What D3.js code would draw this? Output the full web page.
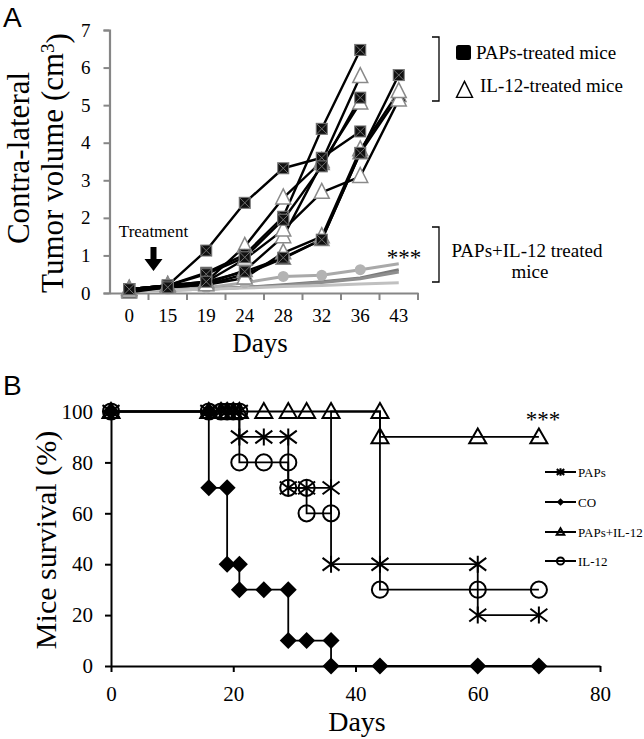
<!DOCTYPE html>
<html><head><meta charset="utf-8">
<script src="https://cdn.jsdelivr.net/npm/d3@7"></script>
<style>
body{margin:0;background:#fff;}
svg{display:block;}
text{font-family:"Liberation Serif","Times New Roman",serif;fill:#000;}
</style>
</head><body>
<svg id="c" width="644" height="739"></svg>
<script>
// ---------- Panel A data ----------
const days = ["0","15","19","24","28","32","36","43"];
const yTicksA = [0,1,2,3,4,5,6,7];
const papsMice = [
  [0.10,0.20,1.13,2.40,3.32,3.60,4.30,null],
  [0.10,0.20,0.54,1.02,2.03,4.37,6.47,null],
  [0.10,0.20,0.50,0.95,1.95,3.37,5.20,null],
  [0.10,0.15,0.30,0.57,0.94,1.42,3.73,5.80]
];
const il12Mice = [
  [0.10,0.20,0.30,1.24,2.53,3.50,5.76,null],
  [0.08,0.15,0.25,0.60,1.50,3.45,5.06,null],
  [0.10,0.20,0.30,0.90,1.68,2.68,3.10,5.14],
  [0.05,0.15,0.22,0.40,1.07,1.50,3.81,5.36]
];
const filledTriMice = [
  [0.02,0.15,0.22,0.50,0.92,1.42,3.73,5.25]
];
const comboMice = [
  [0.05,0.10,0.14,0.27,0.44,0.47,0.62,0.78],
  [0.05,0.08,0.10,0.15,0.22,0.30,0.40,0.62],
  [0.05,0.08,0.10,0.15,0.20,0.28,0.38,0.56],
  [0.05,0.08,0.10,0.13,0.17,0.20,0.24,0.27]
];
const comboColors = ["#a9a9a9","#7a7a7a","#8e8e8e","#c0c0c0"];
const legendA = ["PAPs-treated mice","IL-12-treated mice"];

// ---------- Panel B data (day, % survival) ----------
const xTicksB = [0,20,40,60,80];
const yTicksB = [0,20,40,60,80,100];
const survPAPs = [[0,100],[16,100],[18,100],[19,100],[20,100],[21,100],[21,90],[25,90],[29,90],[29,70],[32,70],[36,70],[36,40],[44,40],[60,40],[60,20],[70,20]];
const survCO = [[0,100],[16,100],[16,70],[19,70],[19,40],[21,40],[21,30],[25,30],[29,30],[29,10],[32,10],[36,10],[36,0],[44,0],[60,0],[70,0]];
const survCombo = [[0,100],[16,100],[18,100],[19,100],[20,100],[21,100],[25,100],[29,100],[32,100],[36,100],[44,100],[44,90],[60,90],[70,90]];
const survIL12 = [[0,100],[16,100],[18,100],[19,100],[20,100],[21,100],[21,80],[25,80],[29,80],[29,70],[32,70],[32,60],[36,60],[36,100,0],[44,100,0],[44,30],[60,30],[70,30]];
const legendB = ["PAPs","CO","PAPs+IL-12","IL-12"];

const svg = d3.select("#c");

// ================= PANEL A =================
const xA = d3.scaleBand().domain(days).range([110,418]);
const yA = d3.scaleLinear().domain([0,7]).range([293,30]);
const cx = d => xA(d) + xA.bandwidth()/2;
const gA = svg.append("g");
const axisGray = "#868686";

const yAxA = gA.append("g").attr("transform","translate(109.5,0)")
  .call(d3.axisLeft(yA).tickValues(yTicksA).tickSize(6).tickPadding(13).tickFormat(d3.format("d")));
yAxA.select(".domain").attr("stroke",axisGray).attr("stroke-width",2.2);
yAxA.selectAll(".tick line").attr("stroke",axisGray).attr("stroke-width",2);
yAxA.selectAll(".tick text").style("font-family","Liberation Serif").style("font-size","19px").attr("fill","#000");

const xAxA = gA.append("g").attr("transform","translate(0,293)")
  .call(d3.axisBottom(xA).tickSize(0).tickPadding(0));
xAxA.select(".domain").attr("stroke",axisGray).attr("stroke-width",2.2);
xAxA.selectAll(".tick text").attr("y",29).attr("dy",0)
  .style("font-family","Liberation Serif").style("font-size","19px").attr("fill","#000");
const bounds = days.map(d=>xA(d)).concat([xA.range()[1]]);
gA.selectAll("line.xb").data(bounds.slice(1)).enter().append("line")
  .attr("x1",d=>d).attr("x2",d=>d).attr("y1",293).attr("y2",300)
  .attr("stroke",axisGray).attr("stroke-width",2);

gA.append("text").attr("x",260).attr("y",352).attr("text-anchor","middle").style("font-size","27px").text("Days");
gA.append("text").attr("transform","translate(29,158) rotate(-90)").attr("text-anchor","middle").style("font-size","31px").text("Contra-lateral");
const t2 = gA.append("text").attr("transform","translate(63,163) rotate(-90)").attr("text-anchor","middle").style("font-size","31px");
t2.append("tspan").text("Tumor volume (cm");
t2.append("tspan").attr("dy","-0.45em").style("font-size","19px").text("3");
t2.append("tspan").attr("dy","0.45em").text(")");
svg.append("text").attr("x",3).attr("y",27).style("font-family","Liberation Sans").style("font-size","28px").text("A");

const lineA = d3.line().defined(d=>d!=null).x((d,i)=>cx(days[i])).y(d=>yA(d));

comboMice.forEach((s,k)=>{
  gA.append("path").attr("d",lineA(s)).attr("fill","none")
    .attr("stroke",comboColors[k]).attr("stroke-width",3);
});
gA.selectAll("circle.gc").data(comboMice[0].slice(0,7)).enter().append("circle")
  .attr("cx",(d,i)=>cx(days[i])).attr("cy",d=>yA(d)).attr("r",5.5).attr("fill","#b3b3b3");

[...papsMice,...il12Mice,...filledTriMice].forEach(s=>{
  gA.append("path").attr("d",lineA(s)).attr("fill","none")
    .attr("stroke","#000").attr("stroke-width",2.4).attr("stroke-linejoin","round");
});

function triPath(x,y,w,h){return `M${x},${y-h*0.6}L${x+w/2},${y+h*0.4}L${x-w/2},${y+h*0.4}Z`;}

filledTriMice.forEach(s=>s.forEach((v,i)=>{ if(v==null) return;
  gA.append("path").attr("d",triPath(cx(days[i]),yA(v),15,15)).attr("fill","#000").attr("stroke","#8a8a8a").attr("stroke-width",1.2);
}));
il12Mice.forEach(s=>s.forEach((v,i)=>{ if(v==null) return;
  gA.append("path").attr("d",triPath(cx(days[i]),yA(v),15,15)).attr("fill","#fff").attr("stroke","#8a8a8a").attr("stroke-width",1.5);
}));
papsMice.forEach(s=>s.forEach((v,i)=>{ if(v==null) return;
  const x=cx(days[i]), y=yA(v), h=5.5;
  gA.append("rect").attr("x",x-h).attr("y",y-h).attr("width",2*h).attr("height",2*h)
    .attr("fill","#111").attr("stroke","#7a7a7a").attr("stroke-width",1);
  gA.append("path").attr("d",`M${x-h},${y-h}L${x+h},${y+h}M${x-h},${y+h}L${x+h},${y-h}`)
    .attr("stroke","#707070").attr("stroke-width",1);
}));

const ax = xA("15")+5;
gA.append("text").attr("x",ax).attr("y",237).attr("text-anchor","middle").style("font-size","17px").text("Treatment");
gA.append("path").attr("d",`M${ax-3},247V259H${ax-9}L${ax},271L${ax+9},259H${ax+3}V247Z`).attr("fill","#000");
gA.append("text").attr("x",404).attr("y",265).attr("text-anchor","middle").style("font-size","23px").text("***");

const br = (y1,y2)=>gA.append("path").attr("d",`M432,${y1}H439V${y2}H432`).attr("fill","none").attr("stroke","#000").attr("stroke-width",1.3);
br(37,101); br(227,282);
gA.append("rect").attr("x",456).attr("y",45).attr("width",15).attr("height",15).attr("rx",2.5).attr("fill","#000");
gA.append("text").attr("x",476).attr("y",59).style("font-size","19px").text(legendA[0]);
gA.append("path").attr("d",triPath(464.5,91,16,16)).attr("fill","none").attr("stroke","#000").attr("stroke-width",1.4);
gA.append("text").attr("x",480).attr("y",92).style("font-size","19px").text(legendA[1]);
gA.append("text").attr("x",527).attr("y",257).attr("text-anchor","middle").style("font-size","19px").text("PAPs+IL-12 treated");
gA.append("text").attr("x",530).attr("y",278).attr("text-anchor","middle").style("font-size","19px").text("mice");

// ================= PANEL B =================
const xB = d3.scaleLinear().domain([0,80]).range([111,600]);
const yB = d3.scaleLinear().domain([0,100]).range([666,411.5]);
const gB = svg.append("g");

const yAxB = gB.append("g").attr("transform","translate(111,0)")
  .call(d3.axisLeft(yB).tickValues(yTicksB).tickSize(6).tickPadding(12).tickSizeOuter(0));
const xAxB = gB.append("g").attr("transform","translate(0,666)")
  .call(d3.axisBottom(xB).tickValues(xTicksB).tickSize(6).tickPadding(10).tickSizeOuter(0));
[yAxB,xAxB].forEach(a=>{
  a.select(".domain").attr("stroke","#000").attr("stroke-width",2);
  a.selectAll(".tick line").attr("stroke","#000").attr("stroke-width",2);
  a.selectAll(".tick text").style("font-family","Liberation Serif").style("font-size","21px").attr("fill","#000");
});
xAxB.selectAll(".tick text").attr("y",35).attr("dy",0);

gB.append("text").attr("x",357).attr("y",731).attr("text-anchor","middle").style("font-size","28px").text("Days");
gB.append("text").attr("transform","translate(56,540) rotate(-90)").attr("text-anchor","middle").style("font-size","30px").text("Mice survival (%)");
svg.append("text").attr("x",3).attr("y",395).style("font-family","Liberation Sans").style("font-size","28px").text("B");
gB.append("text").attr("x",543).attr("y",427).attr("text-anchor","middle").style("font-size","23px").text("***");

const lineB = d3.line().x(d=>xB(d[0])).y(d=>yB(d[1]));
const seriesB = [
  {data:survPAPs, m:"ast"},
  {data:survCO, m:"dia"},
  {data:survCombo, m:"tri"},
  {data:survIL12, m:"cir"}
];
seriesB.forEach(s=>{
  gB.append("path").attr("d",lineB(s.data)).attr("fill","none").attr("stroke","#000").attr("stroke-width",1.8);
});
function marker(g,type,x,y,s){
  if(type==="ast"){
    g.append("path").attr("d",`M${x},${y-s}V${y+s}M${x-s},${y-s*0.75}L${x+s},${y+s*0.75}M${x-s},${y+s*0.75}L${x+s},${y-s*0.75}`)
      .attr("stroke","#000").attr("stroke-width",2).attr("fill","none");
  } else if(type==="dia"){
    g.append("path").attr("d",`M${x},${y-s}L${x+s},${y}L${x},${y+s}L${x-s},${y}Z`).attr("fill","#000");
  } else if(type==="tri"){
    g.append("path").attr("d",`M${x},${y-s}L${x+s},${y+s*0.75}L${x-s},${y+s*0.75}Z`)
      .attr("fill","none").attr("stroke","#000").attr("stroke-width",2);
  } else {
    g.append("circle").attr("cx",x).attr("cy",y).attr("r",s*0.95).attr("fill","none").attr("stroke","#000").attr("stroke-width",2);
  }
}
[seriesB[1],seriesB[2],seriesB[3],seriesB[0]].forEach(s=>{
  s.data.forEach(d=>{ if(d[2]===0) return; marker(gB,s.m,xB(d[0]),yB(d[1]),8.5); });
});

const legY = [472,502,532,561];
legendB.forEach((t,i)=>{
  gB.append("line").attr("x1",545).attr("x2",576).attr("y1",legY[i]).attr("y2",legY[i]).attr("stroke","#000").attr("stroke-width",2);
  marker(gB,seriesB[i].m,560.5,legY[i],3.8);
  gB.append("text").attr("x",578).attr("y",legY[i]+4.5).style("font-size","13px").text(t);
});
</script>
</body></html>
